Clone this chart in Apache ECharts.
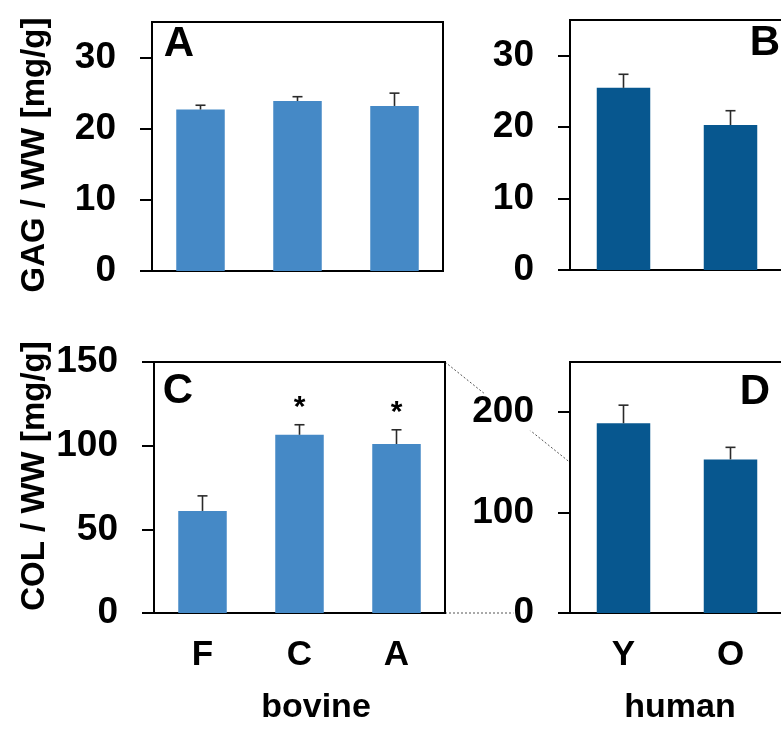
<!DOCTYPE html>
<html>
<head>
<meta charset="utf-8">
<style>
  html, body { margin: 0; padding: 0; background: #fff; }
  #chart { width: 781px; height: 740px; }
</style>
<script src="https://cdn.jsdelivr.net/npm/echarts@6/dist/echarts.min.js"></script>
</head>
<body>
<div id="chart"></div>
<script>
// groups
const bovineGroups = ['F', 'C', 'A']
const humanGroups = ['Y', 'O']

// GAG / WW (mean, sd)
const gagBovine = [22.7, 23.9, 23.2]
const gagBovineSd = [0.6, 0.6, 1.8]
const gagHuman = [25.5, 20.3]
const gagHumanSd = [1.9, 2.0]

// COL / WW (mean, sd)
const colBovine = [61, 106.5, 101]
const colBovineSd = [9, 6, 8.5]
const colBovineSig = ['', '*', '*']
const colHuman = [189, 153]
const colHumanSd = [18, 12]

// tick labels
const gagTicks = [0, 10, 20, 30]
const colBovineTicks = [0, 50, 100, 150]
const colHumanTicks = [0, 100, 200]
const zoomRange = [0, 150]

const FONT = '"Liberation Sans", Arial, sans-serif'
const light = '#4589c6'
const dark = '#07578f'

const grids = [
  { left: 152, top: 22, width: 291, height: 249 },  // A
  { left: 570, top: 20, width: 214, height: 250 },  // B (runs off the right edge)
  { left: 154, top: 362, width: 291, height: 251 }, // C
  { left: 570, top: 362, width: 214, height: 251 }  // D
]

const chart = echarts.init(document.getElementById('chart'))

const xAxis = (gi, data, showLabels) => ({
  type: 'category',
  gridIndex: gi,
  data: data,
  boundaryGap: true,
  axisLine: { lineStyle: { color: '#000', width: 2 } },
  axisTick: { inside: false, length: 12, lineStyle: { color: '#000', width: 2 } },
  axisLabel: {
    show: showLabels,
    margin: 25,
    color: '#000',
    fontFamily: FONT,
    fontWeight: 'bold',
    fontSize: 35
  },
  splitLine: { show: false }
})

const yAxis = (gi, max, ticks, bg) => ({
  type: 'value',
  gridIndex: gi,
  min: 0,
  max: max,
  axisLine: { show: true, lineStyle: { color: '#000', width: 2 } },
  axisTick: { show: true, inside: false, length: 12, customValues: ticks, lineStyle: { color: '#000', width: 2 } },
  axisLabel: {
    customValues: ticks,
    margin: 36,
    color: '#000',
    fontFamily: FONT,
    fontWeight: 'bold',
    fontSize: 37,
    backgroundColor: bg ? '#fff' : 'transparent'
  },
  splitLine: { show: false }
})

const barSeries = (i, values, color) => ({
  type: 'bar',
  xAxisIndex: i,
  yAxisIndex: i,
  data: values,
  barWidth: '50%',
  itemStyle: { color: color },
  silent: true
})

const errorSeries = (i, means, sds, sig) => ({
  type: 'custom',
  xAxisIndex: i,
  yAxisIndex: i,
  silent: true,
  z: 3,
  data: means.map((m, k) => [k, m, m + sds[k]]),
  renderItem: (params, api) => {
    const base = api.coord([api.value(0), api.value(1)])
    const top = api.coord([api.value(0), api.value(2)])
    const style = { stroke: '#2a2a2a', lineWidth: 1.6 }
    const children = [
      { type: 'line', shape: { x1: base[0], y1: base[1], x2: top[0], y2: top[1] }, style },
      { type: 'line', shape: { x1: top[0] - 5, y1: top[1], x2: top[0] + 5, y2: top[1] }, style }
    ]
    if (sig && sig[params.dataIndex]) {
      children.push({
        type: 'text',
        x: top[0],
        y: top[1] - 2,
        style: {
          text: sig[params.dataIndex],
          fontFamily: FONT,
          fontWeight: 'bold',
          fontSize: 30,
          fill: '#000',
          align: 'center',
          verticalAlign: 'bottom'
        }
      })
    }
    return { type: 'group', children }
  }
})

const label = (id, text, x, y, size, rot) => ({
  type: 'text',
  id: id,
  x: x,
  y: y,
  rotation: rot || 0,
  style: {
    text: text,
    fontFamily: FONT,
    fontWeight: 'bold',
    fontSize: size,
    fill: '#000',
    align: 'center',
    verticalAlign: 'middle'
  }
})

const option = {
  animation: false,
  grid: grids.map(g => ({
    ...g,
    show: true,
    borderColor: '#000',
    borderWidth: 2,
    backgroundColor: 'transparent',
    outerBoundsMode: 'none'
  })),
  xAxis: [
    xAxis(0, bovineGroups, false),
    xAxis(1, humanGroups, false),
    xAxis(2, bovineGroups, true),
    xAxis(3, humanGroups, true)
  ],
  yAxis: [
    yAxis(0, 35, gagTicks),
    yAxis(1, 35, gagTicks),
    yAxis(2, 150, colBovineTicks),
    yAxis(3, 250, colHumanTicks, true)
  ],
  series: [
    barSeries(0, gagBovine, light),
    barSeries(1, gagHuman, dark),
    barSeries(2, colBovine, light),
    barSeries(3, colHuman, dark),
    errorSeries(0, gagBovine, gagBovineSd),
    errorSeries(1, gagHuman, gagHumanSd),
    errorSeries(2, colBovine, colBovineSd, colBovineSig),
    errorSeries(3, colHuman, colHumanSd)
  ],
  graphic: [
    label('ytitle-gag', 'GAG / WW [mg/g]', 35, 155, 33, Math.PI / 2),
    label('ytitle-col', 'COL / WW [mg/g]', 35, 476, 33, Math.PI / 2),
    label('panel-a', 'A', 179, 44, 42),
    label('panel-b', 'B', 765, 43, 42),
    label('panel-c', 'C', 178, 391, 42),
    label('panel-d', 'D', 755, 392, 42),
    label('group-bovine', 'bovine', 316, 708, 34),
    label('group-human', 'human', 680, 708, 34)
  ]
}

chart.setOption(option)

// dotted zoom lines linking panel C's range to the same range on panel D
const cRight = grids[2].left + grids[2].width
const dLeft = grids[3].left
const yCTop = chart.convertToPixel({ yAxisIndex: 2 }, zoomRange[1])
const yDTop = chart.convertToPixel({ yAxisIndex: 3 }, zoomRange[1])
const yCBot = chart.convertToPixel({ yAxisIndex: 2 }, zoomRange[0])
const yDBot = chart.convertToPixel({ yAxisIndex: 3 }, zoomRange[0])
const zoomStyle = { stroke: '#555', lineWidth: 1, lineDash: [2, 2] }

chart.setOption({
  graphic: [
    { type: 'line', id: 'zoom-top', z: -1, shape: { x1: cRight, y1: yCTop, x2: dLeft, y2: yDTop }, style: zoomStyle },
    { type: 'line', id: 'zoom-bot', z: -1, shape: { x1: cRight, y1: yCBot, x2: dLeft - 55, y2: yDBot }, style: zoomStyle }
  ]
})

window.addEventListener('resize', () => chart.resize())
</script>
</body>
</html>
